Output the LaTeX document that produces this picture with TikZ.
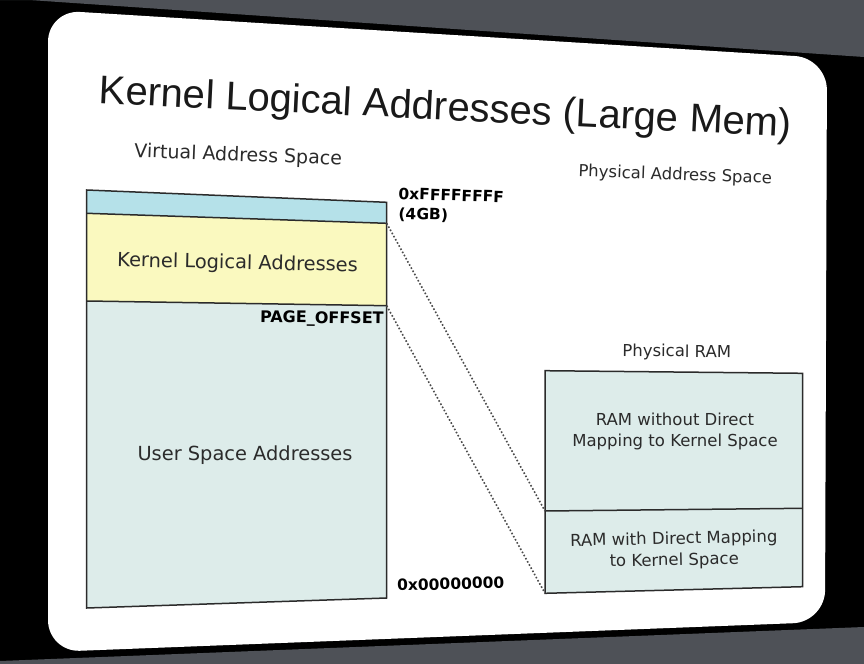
\documentclass[tikz,border=0pt]{standalone}
\usepackage{fontspec}
\setmainfont{DejaVu Sans}
\newfontfamily\titlefont{Liberation Sans}
\usepackage{xcolor}
\definecolor{topBand}{HTML}{B5E1E9}
\definecolor{kernelBand}{HTML}{FAF9BF}
\definecolor{userBand}{HTML}{DDECEA}
\definecolor{frameGray}{HTML}{4E5157}
\definecolor{ink}{HTML}{2B2B2B}

\begin{document}
\begin{tikzpicture}[x=0.5pt,y=-0.5pt,
		txt/.style={text=ink,inner sep=0pt,font=\fontsize{9.5}{11}\selectfont},
		boxtxt/.style={text=ink,inner sep=0pt,font=\fontsize{9.7}{11}\selectfont},
		ramtxt/.style={text=ink,inner sep=0pt,align=center,font=\fontsize{8.25}{10.75}\selectfont},
		addr/.style={text=black,inner sep=0pt,font=\fontsize{7.75}{9}\selectfont\bfseries},
		outline/.style={draw=ink,line width=0.75pt},
		mapline/.style={draw=ink!85,densely dotted,line width=0.8pt}]
		\useasboundingbox (0,0) rectangle (864,664);
		\pgfmathsetmacro{\virtLeft}{86.7}
		\pgfmathsetmacro{\virtRight}{386.7}
		\pgfmathsetmacro{\ramLeft}{545}
		\pgfmathsetmacro{\ramRight}{802.7}
		
		% screen around the slide
		\fill[black] (0,0) rectangle (864,664);
		\fill[frameGray] (0,0) -- (864,0) -- (864,57) -- (0,-2) -- cycle;
		\fill[frameGray] (0,661) -- (864,627) -- (864,664) -- (0,664) -- cycle;
		\fill[white,rounded corners=16pt] (48,10) -- (827,58) -- (825,622) -- (48,652) -- cycle;
		
		% virtual address space corners
		\coordinate (vTopL) at (\virtLeft,190);
		\coordinate (vTopR) at (\virtRight,202.3);
		\coordinate (vHighL) at (\virtLeft,213.3);
		\coordinate (vHighR) at (\virtRight,223.3);
		\coordinate (vOffL) at (\virtLeft,301);
		\coordinate (vOffR) at (\virtRight,305.7);
		\coordinate (vBotL) at (\virtLeft,608);
		\coordinate (vBotR) at (\virtRight,598);
		
		% physical RAM corners
		\coordinate (rTopL) at (\ramLeft,370.7);
		\coordinate (rTopR) at (\ramRight,373.3);
		\coordinate (rMidL) at (\ramLeft,511);
		\coordinate (rMidR) at (\ramRight,508.3);
		\coordinate (rBotL) at (\ramLeft,593.3);
		\coordinate (rBotR) at (\ramRight,586.7);
		
		\fill[topBand] (vTopL) -- (vTopR) -- (vHighR) -- (vHighL) -- cycle;
		\fill[kernelBand] (vHighL) -- (vHighR) -- (vOffR) -- (vOffL) -- cycle;
		\fill[userBand] (vOffL) -- (vOffR) -- (vBotR) -- (vBotL) -- cycle;
		\fill[userBand] (rTopL) -- (rTopR) -- (rBotR) -- (rBotL) -- cycle;
		\draw[outline] (vTopL) -- (vTopR) -- (vBotR) -- (vBotL) -- cycle;
		\draw[outline] (vHighL) -- (vHighR);
		\draw[outline] (vOffL) -- (vOffR);
		\draw[outline] (rTopL) -- (rTopR) -- (rBotR) -- (rBotL) -- cycle;
		\draw[outline] (rMidL) -- (rMidR);
		
		% mapping of the kernel logical range
		\draw[mapline] (vHighR) -- (rMidL);
		\draw[mapline] (vOffR) -- (rBotL);
		
		\node[anchor=base,rotate=-2.8,inner sep=0pt,text=black!90,font=\titlefont\fontsize{20}{24}\selectfont] (title) at (445,120) {Kernel Logical Addresses (Large Mem)};
		\node[txt,anchor=base,rotate=-2.2] (virtLabel) at (238,161) {Virtual Address Space};
		\node[txt,anchor=base,rotate=-2.1,font=\fontsize{8.25}{10}\selectfont] (physLabel) at (675,180) {Physical Address Space};
		\node[addr,anchor=base west,rotate=-1.85] (topAddr) at (398,199) {0xFFFFFFFF};
		\node[addr,anchor=base west,rotate=-1.7] (topSize) at (398,219) {(4GB)};
		\node[boxtxt,anchor=base,rotate=-1.25] (kernelLabel) at (237.5,269) {Kernel Logical Addresses};
		\node[addr,anchor=base east,rotate=-0.75,font=\fontsize{8}{9}\selectfont\bfseries] (offsetLabel) at (384,324) {PAGE\_OFFSET};
		\node[boxtxt,anchor=base] (userLabel) at (245,460) {User Space Addresses};
		\node[addr,anchor=base west,rotate=1.6] (botAddr) at (397,591) {0x00000000};
		\node[ramtxt,anchor=base,rotate=-0.5] (ramLabel) at (676.7,357) {Physical RAM};
		\node[ramtxt] (highRam) at (675,431.6) {RAM without Direct\\Mapping to Kernel Space};
		\node[ramtxt,rotate=1.2] (lowRam) at (674,550.3) {RAM with Direct Mapping\\to Kernel Space};
	\end{tikzpicture}
\end{document}
